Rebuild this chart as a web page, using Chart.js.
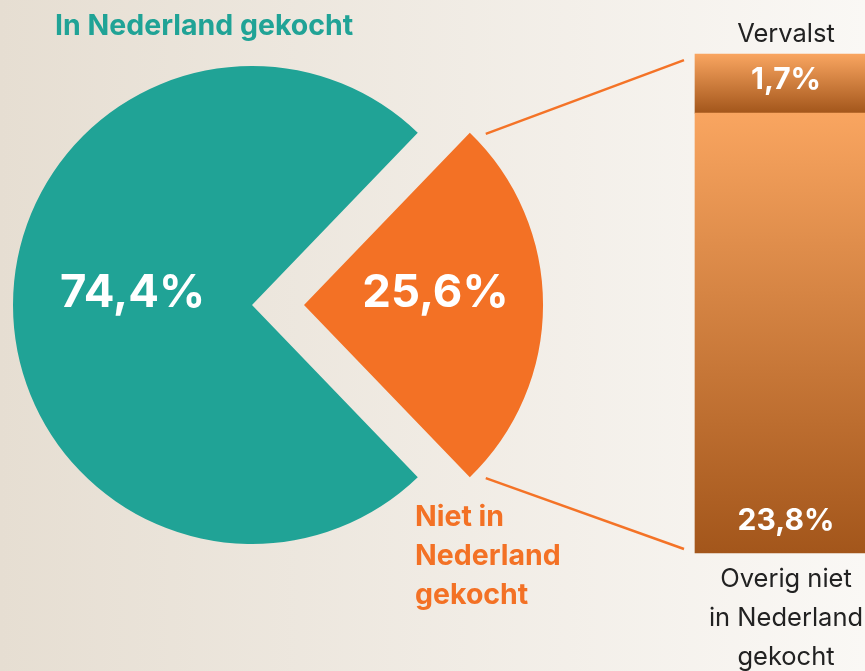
<!DOCTYPE html>
<html>
<head>
<meta charset="utf-8">
<script src="https://cdn.jsdelivr.net/npm/chart.js@4"></script>
<style>
  html, body { margin: 0; padding: 0; }
  body {
    width: 865px; height: 671px; overflow: hidden; position: relative;
    background: linear-gradient(to right, #e6ded2, #faf8f5);
  }
  .wrap { position: absolute; left: 0; top: 0; width: 880px; height: 671px; }
</style>
</head>
<body>
<div class="wrap"><canvas id="pie"></canvas></div>
<div class="wrap"><canvas id="bar"></canvas></div>
<script>
// pie: bought in NL vs not
const pieLabels = [['In Nederland gekocht'], ['Niet in', 'Nederland', 'gekocht']];
const pieValues = [74.4, 25.6];
const pieColors = ['#20a396', '#f37125'];

// bar: breakdown of the "not in NL" part (bottom to top)
const barLabels = [['Overig niet', 'in Nederland', 'gekocht'], ['Vervalst']];
const barValues = [23.8, 1.7];

const FONT = 'Inter, "Noto Sans", sans-serif';
const fmt = v => v.toFixed(1).replace('.', ',') + '%';
// chart.js v4 draws arc offset at a quarter of the option value
const SHIFT = 52;

const pieText = {
  id: 'pieText',
  afterDatasetsDraw(chart) {
    const c = chart.ctx;
    const arcs = chart.getDatasetMeta(0).data;
    c.save();
    c.fillStyle = '#fff';
    c.font = 'bold 45.5px ' + FONT;
    c.textAlign = 'center';
    c.textBaseline = 'middle';
    const k = [0.5, 0.55];
    arcs.forEach((arc, i) => {
      const mid = (arc.startAngle + arc.endAngle) / 2;
      const d = (i === 1 ? SHIFT : 0) + arc.outerRadius * k[i];
      c.fillText(fmt(pieValues[i]), arc.x + Math.cos(mid) * d, arc.y + Math.sin(mid) * d - 12);
    });

    c.textAlign = 'left';
    c.textBaseline = 'alphabetic';
    c.font = 'bold 28.5px ' + FONT;
    c.fillStyle = pieColors[0];
    c.fillText(pieLabels[0][0], 55, 35);
    c.fillStyle = pieColors[1];
    pieLabels[1].forEach((line, j) => c.fillText(line, 415, 526 + j * 39));
    c.restore();
  }
};

const pieChart = new Chart(document.getElementById('pie'), {
  type: 'pie',
  data: {
    labels: pieLabels.map(l => l.join(' ')),
    datasets: [{
      data: pieValues,
      backgroundColor: pieColors,
      borderWidth: 0,
      offset: [0, SHIFT * 4],
      hoverOffset: 0,
      clip: false
    }]
  },
  options: {
    responsive: true,
    maintainAspectRatio: false,
    animation: false,
    events: [],
    // orange slice centred on the right
    rotation: 90 - pieValues[0] * 3.6 - pieValues[1] * 1.8,
    radius: 239,
    layout: { padding: { left: 0, top: 0, right: 376, bottom: 61 } },
    plugins: { legend: { display: false }, tooltip: { enabled: false } }
  },
  plugins: [pieText]
});

function barGradient(ctx, i) {
  const chart = ctx.chart;
  const y = chart.scales.y;
  if (!chart.chartArea || !y) return '#d07a35';
  const start = barValues.slice(0, i).reduce((a, b) => a + b, 0);
  const bottom = y.getPixelForValue(start);
  let top = y.getPixelForValue(start + barValues[i]);
  const minLen = ctx.dataset.minBarLength || 0;
  if (bottom - top < minLen) top = bottom - minLen;
  const g = chart.ctx.createLinearGradient(0, top, 0, bottom);
  g.addColorStop(0, '#f9a560');
  g.addColorStop(1, '#a3561b');
  return g;
}

const barText = {
  id: 'barText',
  afterDraw(chart) {
    const c = chart.ctx;
    const bars = barValues.map((v, i) => chart.getDatasetMeta(i).data[0]);
    const low = bars[0], high = bars[bars.length - 1];
    c.save();

    // connector lines from the orange slice to the bar
    const arc = pieChart.getDatasetMeta(0).data[1];
    const mid = (arc.startAngle + arc.endAngle) / 2;
    const ox = arc.x + Math.cos(mid) * SHIFT, oy = arc.y + Math.sin(mid) * SHIFT;
    const left = low.x - low.width / 2;
    c.strokeStyle = '#f47327';
    c.lineWidth = 2.5;
    [[arc.startAngle, high.y + 6], [arc.endAngle, low.base - 4]].forEach(([a, ty]) => {
      c.beginPath();
      c.moveTo(ox + Math.cos(a) * arc.outerRadius + 16, oy + Math.sin(a) * arc.outerRadius + 1);
      c.lineTo(left - 11, ty);
      c.stroke();
    });

    c.fillStyle = '#fff';
    c.font = 'bold 30px ' + FONT;
    c.textAlign = 'center';
    c.textBaseline = 'middle';
    c.fillText(fmt(barValues[1]), high.x, (high.y + high.base) / 2 - 4);
    c.fillText(fmt(barValues[0]), low.x, low.base - 32);

    c.fillStyle = '#222';
    c.font = '25.5px ' + FONT;
    c.textBaseline = 'alphabetic';
    c.fillText(barLabels[1][0], high.x, high.y - 12);
    barLabels[0].forEach((line, j) => c.fillText(line, low.x, low.base + 34 + j * 39));
    c.restore();
  }
};

new Chart(document.getElementById('bar'), {
  type: 'bar',
  data: {
    labels: [''],
    datasets: barValues.map((v, i) => ({
      label: barLabels[i].join(' '),
      data: [v],
      backgroundColor: ctx => barGradient(ctx, i),
      borderWidth: 0,
      minBarLength: i === 1 ? 59 : 0,
      barPercentage: 1,
      categoryPercentage: 1,
      clip: false
    }))
  },
  options: {
    responsive: true,
    maintainAspectRatio: false,
    animation: false,
    events: [],
    layout: { padding: { left: 695, right: 3, top: 54, bottom: 118 } },
    scales: {
      x: { display: false, stacked: true },
      y: { display: false, stacked: true, min: 0, max: 27 }
    },
    plugins: { legend: { display: false }, tooltip: { enabled: false } }
  },
  plugins: [barText]
});
</script>
</body>
</html>
